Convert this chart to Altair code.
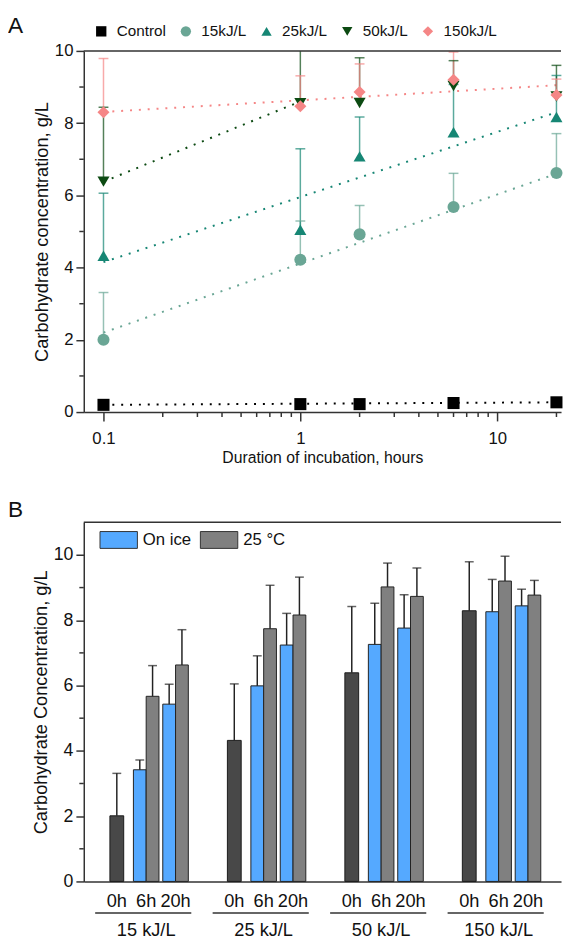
import altair as alt
import pandas as pd

FONT = "Liberation Sans"

# ---------------- Panel A data ----------------
hours = [0.1, 1, 2, 6, 20]
series_names = ["Control", "15kJ/L", "25kJ/L", "50kJ/L", "150kJ/L"]
control_vals = [0.20, 0.22, 0.22, 0.25, 0.27]
kj15_vals = [2.00, 4.22, 4.92, 5.68, 6.62]
kj15_upper = [3.31, 5.29, 5.72, 6.61, 7.71]
kj25_vals = [4.33, 5.05, 7.08, 7.75, 8.17]
kj25_upper = [6.06, 7.29, 8.17, 9.07, 9.32]
kj50_vals = [6.38, 8.55, 8.56, 9.03, 8.74]
kj50_upper = [8.44, 10.60, 9.81, 9.73, 9.60]
kj150_vals = [8.30, 8.47, 8.86, 9.20, 8.78]
kj150_upper = [9.79, 9.31, 9.64, 9.97, 9.22]

# dotted trend lines (hours, value)
fit_hours = {"Control": [0.1, 20], "15kJ/L": [0.1, 20], "25kJ/L": [0.1, 20],
             "50kJ/L": [0.1, 1], "150kJ/L": [0.1, 20]}
fit_vals = {"Control": [0.20, 0.27], "15kJ/L": [2.20, 6.60], "25kJ/L": [4.15, 8.30],
            "50kJ/L": [6.38, 8.60], "150kJ/L": [8.31, 9.05]}

x_major = [0.1, 1, 10]
x_minor = [0.2, 0.3, 0.4, 0.5, 0.6, 0.7, 0.8, 0.9, 2, 3, 4, 5, 6, 7, 8, 9, 20]
yA_major = [0, 2, 4, 6, 8, 10]
yA_minor = [1, 3, 5, 7, 9]

colors_A = ["#000000", "#6aa695", "#168674", "#0c4a12", "#f58686"]
shapes_A = ["square", "circle", "triangle-up", "triangle-down", "diamond"]

vals = {"Control": control_vals, "15kJ/L": kj15_vals, "25kJ/L": kj25_vals,
        "50kJ/L": kj50_vals, "150kJ/L": kj150_vals}
uppers = {"Control": [None] * 5, "15kJ/L": kj15_upper, "25kJ/L": kj25_upper,
          "50kJ/L": kj50_upper, "150kJ/L": kj150_upper}

rowsA = []
for s in series_names:
    for h, v, u in zip(hours, vals[s], uppers[s]):
        rowsA.append({"series": s, "line": s, "hours": h, "value": v, "upper": u})
dfA = pd.DataFrame(rowsA)

fit_rows = []
for s in series_names:
    for h, v in zip(fit_hours[s], fit_vals[s]):
        fit_rows.append({"line": s, "hours": h, "value": v})
dfFit = pd.DataFrame(fit_rows)

WA, HA = 485, 367
xA = alt.Scale(type="log", domain=[0.0794, 21.1], nice=False)
yA = alt.Scale(domain=[0, 10], nice=False)
# stroke scale (lines / error bars): same colours, listed in reverse so that it
# stays a separate scale from the legend's colour scale
strokeA = alt.Scale(domain=series_names[::-1], range=colors_A[::-1])

lines = alt.Chart(dfFit).mark_line(strokeDash=[2, 7], strokeWidth=2).encode(
    x=alt.X("hours:Q", scale=xA,
            axis=alt.Axis(values=x_major, format="~g", tickSize=9, labelPadding=10,
                          labelFontSize=17, titleFontSize=16,
                          title="Duration of incubation, hours", titlePadding=3)),
    y=alt.Y("value:Q", scale=yA,
            axis=alt.Axis(values=yA_major, tickSize=8, labelPadding=3, labelFontSize=17,
                          titleFontSize=18.5,
                          title="Carbohydrate concentration, g/L", titlePadding=3)),
    stroke=alt.Stroke("line:N", scale=strokeA, legend=None),
    detail="line:N",
)

errA = alt.Chart(dfA).transform_filter("isValid(datum.upper)").mark_rule(
    strokeWidth=1.5, opacity=0.7, clip=True).encode(
    x="hours:Q", y="value:Q", y2="upper:Q",
    stroke=alt.Stroke("line:N", legend=None),
)
capA = alt.Chart(dfA).transform_filter("isValid(datum.upper) && datum.upper <= 10").mark_rule(
    strokeWidth=1.5, opacity=0.7, xOffset=-5, x2Offset=5).encode(
    x="hours:Q", x2="hours:Q", y="upper:Q",
    stroke=alt.Stroke("line:N", legend=None),
)

legA = alt.Legend(title=None, orient="none", legendX=10, legendY=-28,
                  direction="horizontal", labelFontSize=15.5,
                  symbolSize=110, columnPadding=12, labelOffset=8)
pointsA = alt.Chart(dfA).mark_point(filled=True, size=150, opacity=1).encode(
    x="hours:Q", y="value:Q",
    color=alt.Color("series:N", scale=alt.Scale(domain=series_names, range=colors_A), legend=legA),
    shape=alt.Shape("series:N", scale=alt.Scale(domain=series_names, range=shapes_A), legend=legA),
)

minorXA = alt.Chart(pd.DataFrame({"v": x_minor})).mark_rule(color="#333", strokeWidth=1.5).encode(
    x="v:Q", y=alt.value(HA), y2=alt.value(HA + 5))
minorYA = alt.Chart(pd.DataFrame({"v": yA_minor})).mark_rule(color="#333", strokeWidth=1.5).encode(
    y="v:Q", x=alt.value(-4.5), x2=alt.value(0))
topA = alt.Chart(alt.Data(values=[{}])).mark_rule(color="#333", strokeWidth=1.5).encode(
    x=alt.value(0), x2=alt.value(WA), y=alt.value(0))
labelA = alt.Chart(alt.Data(values=[{}])).mark_text(
    text="A", fontSize=23, align="left", baseline="top", font=FONT, color="#111").encode(
    x=alt.value(-77), y=alt.value(-36))

panelA = alt.layer(lines, errA, capA, minorXA, minorYA, topA, pointsA, labelA).properties(
    width=WA, height=HA)

# ---------------- Panel B data ----------------
energies = ["15 kJ/L", "25 kJ/L", "50 kJ/L", "150 kJ/L"]
times = ["0h", "6h", "20h"]
conditions = ["On ice", "25 °C"]
b_0h = [2.01, 4.32, 6.39, 8.29]
b_0h_err = [3.31, 6.05, 8.42, 9.79]
b_ice_6h = [3.42, 5.99, 7.26, 8.26]
b_ice_6h_err = [3.72, 6.91, 8.52, 9.25]
b_warm_6h = [5.67, 7.74, 9.02, 9.20]
b_warm_6h_err = [6.61, 9.07, 9.75, 9.96]
b_ice_20h = [5.43, 7.24, 7.76, 8.44]
b_ice_20h_err = [6.04, 8.21, 8.78, 8.95]
b_warm_20h = [6.63, 8.16, 8.73, 8.77]
b_warm_20h_err = [7.71, 9.32, 9.60, 9.22]
yB_major = [0, 2, 4, 6, 8, 10]
yB_minor = [1, 3, 5, 7, 9]

slot_domain = []
for i, e in enumerate(energies):
    slot_domain += [f"{e}|{t}" for t in times]
    if i < len(energies) - 1:
        slot_domain.append(f"gap{i}")

zero_rows = [{"slot": f"{e}|0h", "value": v, "err": u}
             for e, v, u in zip(energies, b_0h, b_0h_err)]
pair_rows = []
for i, e in enumerate(energies):
    pair_rows.append({"slot": f"{e}|6h", "condition": "On ice", "value": b_ice_6h[i], "err": b_ice_6h_err[i]})
    pair_rows.append({"slot": f"{e}|6h", "condition": "25 °C", "value": b_warm_6h[i], "err": b_warm_6h_err[i]})
    pair_rows.append({"slot": f"{e}|20h", "condition": "On ice", "value": b_ice_20h[i], "err": b_ice_20h_err[i]})
    pair_rows.append({"slot": f"{e}|20h", "condition": "25 °C", "value": b_warm_20h[i], "err": b_warm_20h_err[i]})
dfZero = pd.DataFrame(zero_rows)
dfPair = pd.DataFrame(pair_rows)
dfGroups = pd.DataFrame({"label": energies,
                         "first": [f"{e}|0h" for e in energies],
                         "mid": [f"{e}|6h" for e in energies],
                         "last": [f"{e}|20h" for e in energies]})

WB, HB = 485, 365
xB = alt.Scale(domain=slot_domain, paddingInner=0.13, paddingOuter=0.69)
yB = alt.Scale(domain=[0, 11], nice=False)

xB_axis = alt.Axis(title=None, ticks=False, labelAngle=0, labelPadding=10, labelFontSize=18.5,
                   labelExpr="indexof(datum.label, '|') >= 0 ? split(datum.label, '|')[1] : ''")

zeroBars = alt.Chart(dfZero).mark_bar(fill="#484848", stroke="#1a1a1a", strokeWidth=1,
                                      width=alt.RelativeBandSize(0.54)).encode(
    x=alt.X("slot:N", scale=xB, axis=xB_axis, sort=slot_domain),
    y=alt.Y("value:Q", scale=yB,
            axis=alt.Axis(values=yB_major, tickSize=8, labelPadding=3, labelFontSize=18,
                          titleFontSize=18.5,
                          title="Carbohydrate Concentration, g/L", titlePadding=3)),
)
zeroErr = alt.Chart(dfZero).mark_rule(color="#222", strokeWidth=1.5).encode(
    x=alt.X("slot:N", sort=slot_domain), y="value:Q", y2="err:Q")
zeroCap = alt.Chart(dfZero).mark_tick(orient="horizontal", size=9, thickness=1.5, color="#222").encode(
    x=alt.X("slot:N", sort=slot_domain), y="err:Q")

pairBars = alt.Chart(dfPair).mark_bar(stroke="#222", strokeWidth=1).encode(
    x=alt.X("slot:N", sort=slot_domain),
    xOffset=alt.XOffset("condition:N", scale=alt.Scale(domain=conditions, paddingInner=0)),
    y="value:Q",
    color=alt.Color("condition:N", scale=alt.Scale(domain=conditions, range=["#55a9ff", "#808080"]),
                    legend=alt.Legend(title=None, orient="none", legendX=16, legendY=-2,
                                      direction="horizontal", labelFontSize=17,
                                      symbolType="M-1,-0.45H1V0.45H-1Z", symbolSize=1444,
                                      symbolStrokeColor="#333", symbolStrokeWidth=1,
                                      symbolOpacity=1, columnPadding=6, labelOffset=5)),
)
pairErr = alt.Chart(dfPair).mark_rule(color="#222", strokeWidth=1.5).encode(
    x=alt.X("slot:N", sort=slot_domain),
    xOffset=alt.XOffset("condition:N"),
    y="value:Q", y2="err:Q")
pairCap = alt.Chart(dfPair).mark_tick(orient="horizontal", size=9, thickness=1.5, color="#222").encode(
    x=alt.X("slot:N", sort=slot_domain),
    xOffset=alt.XOffset("condition:N"),
    y="err:Q")

minorYB = alt.Chart(pd.DataFrame({"v": yB_minor})).mark_rule(color="#333", strokeWidth=1.5).encode(
    y="v:Q", x=alt.value(-4.5), x2=alt.value(0))
topB = alt.Chart(alt.Data(values=[{}])).mark_rule(color="#333", strokeWidth=1.5).encode(
    x=alt.value(0), x2=alt.value(WB), y=alt.value(0))
brackets = alt.Chart(dfGroups).mark_rule(color="#333", strokeWidth=1.5, xOffset=-22, x2Offset=16).encode(
    x=alt.X("first:N", sort=slot_domain), x2="last:N", y=alt.value(HB + 32))
groupText = alt.Chart(dfGroups).mark_text(fontSize=18.5, font=FONT, color="#111", baseline="middle").encode(
    x=alt.X("mid:N", sort=slot_domain), text="label:N", y=alt.value(HB + 49))
labelB = alt.Chart(alt.Data(values=[{}])).mark_text(
    text="B", fontSize=23, align="left", baseline="top", font=FONT, color="#111").encode(
    x=alt.value(-77), y=alt.value(-23))

panelB = alt.layer(zeroBars, pairBars, zeroErr, zeroCap, pairErr, pairCap, minorYB, topB,
                   brackets, groupText, labelB).properties(width=WB, height=HB)

chart = alt.vconcat(panelA, panelB, spacing=35).resolve_scale(
    x="independent", y="independent", color="independent", shape="independent", stroke="independent"
).properties(padding=0).configure_view(stroke=None).configure_axis(
    domainColor="#333", domainWidth=1.5, tickColor="#333", tickWidth=1.5,
    labelFont=FONT, titleFont=FONT, labelFontSize=17, titleFontSize=16,
    titleFontWeight="normal", labelColor="#111", titleColor="#111", grid=False
).configure_legend(labelFont=FONT, labelColor="#111").configure_text(font=FONT)

chart.save("out.html", embed_options={"renderer": "svg", "actions": False})
